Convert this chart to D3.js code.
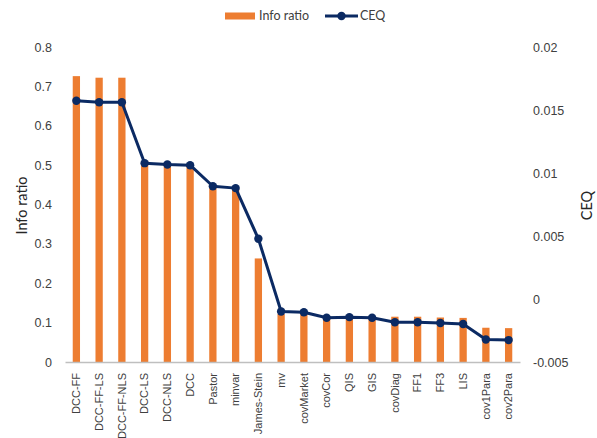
<!DOCTYPE html>
<html>
<head>
<meta charset="utf-8">
<script src="https://cdn.jsdelivr.net/npm/d3@7"></script>
<style>
  html, body { margin: 0; padding: 0; background: #fff; }
  svg { display: block; font-family: Lato, "Open Sans", "Liberation Sans", sans-serif; }
</style>
</head>
<body>
<svg id="chart" width="597" height="438"></svg>
<script>
// Estimators, ordered by information ratio
const categories = ["DCC-FF", "DCC-FF-LS", "DCC-FF-NLS", "DCC-LS", "DCC-NLS", "DCC", "Pastor", "minvar",
  "James-Stein", "mv", "covMarket", "covCor", "QIS", "GIS", "covDiag", "FF1", "FF3", "LIS", "cov1Para", "cov2Para"];

// Information ratio (bars, left axis)
const infoRatio = [0.726, 0.722, 0.722, 0.51, 0.505, 0.50, 0.45, 0.44, 0.263, 0.122,
  0.122, 0.117, 0.115, 0.115, 0.115, 0.115, 0.113, 0.112, 0.087, 0.086];

// Certainty equivalent (line, right axis)
const ceq = [0.01573, 0.01562, 0.01562, 0.01078, 0.01067, 0.01062, 0.00895, 0.0088, 0.00478, -0.00099,
  -0.00105, -0.00149, -0.00144, -0.00149, -0.00184, -0.00184, -0.0019, -0.00198, -0.00321, -0.00326];

const leftTicks = [0, 0.1, 0.2, 0.3, 0.4, 0.5, 0.6, 0.7, 0.8];
const rightTicks = [-0.005, 0, 0.005, 0.01, 0.015, 0.02];

const svg = d3.select("#chart");
const m = { left: 65, right: 520, top: 47, bottom: 362 };

const x = d3.scaleBand().domain(categories).range([m.left, m.right]).paddingInner(0).paddingOuter(0);
const yL = d3.scaleLinear().domain([0, 0.8]).range([m.bottom, m.top]);
const yR = d3.scaleLinear().domain([-0.005, 0.02]).range([m.bottom, m.top]);

const orange = "#ED7D31";
const navy = "#0B2A63";
const textColor = "#404040";
const fs = "12.5px";

// Bars
const barW = x.bandwidth() * 0.32;
svg.append("g").selectAll("rect").data(categories).join("rect")
  .attr("x", (d) => x(d) + x.bandwidth() / 2 - barW / 2)
  .attr("y", (d, i) => yL(infoRatio[i]))
  .attr("width", barW)
  .attr("height", (d, i) => yL(0) - yL(infoRatio[i]))
  .attr("fill", orange);

// Category axis
const xAxis = svg.append("g").attr("transform", `translate(0,${m.bottom})`)
  .call(d3.axisBottom(x).tickSize(0).tickPadding(0));
xAxis.select(".domain").attr("stroke", "#BFBFBF").attr("stroke-width", 1.3);
xAxis.selectAll("text")
  .attr("transform", "rotate(-90)")
  .attr("text-anchor", "end")
  .attr("dx", "-11")
  .attr("dy", "0.35em")
  .attr("y", 0)
  .attr("fill", textColor)
  .style("font-size", "11px");

// Left axis
const lAxis = svg.append("g").attr("transform", `translate(${m.left},0)`)
  .call(d3.axisLeft(yL).tickValues(leftTicks).tickSize(0).tickPadding(13).tickFormat(d3.format("")));
lAxis.select(".domain").remove();
lAxis.selectAll("text").attr("fill", textColor).style("font-size", fs);

// Right axis
const rAxis = svg.append("g").attr("transform", `translate(${m.right},0)`)
  .call(d3.axisRight(yR).tickValues(rightTicks).tickSize(0).tickPadding(13)
    .tickFormat((d) => d === 0 ? "0" : String(+d.toFixed(3))));
rAxis.select(".domain").remove();
rAxis.selectAll("text").attr("fill", textColor).style("font-size", fs);

// Axis titles
svg.append("text").attr("transform", `translate(22,${(m.top + m.bottom) / 2 + 1}) rotate(-90)`)
  .attr("text-anchor", "middle").attr("dy", "0.35em").attr("fill", "#262626")
  .style("font-size", "14.5px").text("Info ratio");
svg.append("text").attr("transform", `translate(587,${(m.top + m.bottom) / 2 + 1}) rotate(-90)`)
  .attr("text-anchor", "middle").attr("dy", "0.35em").attr("fill", "#262626")
  .style("font-size", "14.5px").text("CEQ");

// CEQ line with markers
const cx = (d) => x(d) + x.bandwidth() / 2;
const line = d3.line().x((d) => cx(d)).y((d, i) => yR(ceq[i]));
svg.append("path").datum(categories)
  .attr("d", line).attr("fill", "none").attr("stroke", navy)
  .attr("stroke-width", 3).attr("stroke-linejoin", "round");
svg.append("g").selectAll("circle").data(categories).join("circle")
  .attr("cx", cx).attr("cy", (d, i) => yR(ceq[i])).attr("r", 4.2).attr("fill", navy);

// Legend
const lg = svg.append("g");
lg.append("rect").attr("x", 225).attr("y", 12.5).attr("width", 30).attr("height", 7).attr("fill", orange);
lg.append("text").attr("x", 259).attr("y", 16).attr("dy", "0.35em").attr("fill", textColor)
  .style("font-size", fs).text("Info ratio");
lg.append("line").attr("x1", 325).attr("x2", 358).attr("y1", 16).attr("y2", 16)
  .attr("stroke", navy).attr("stroke-width", 3);
lg.append("circle").attr("cx", 341.5).attr("cy", 16).attr("r", 4.2).attr("fill", navy);
lg.append("text").attr("x", 360).attr("y", 16).attr("dy", "0.35em").attr("fill", textColor)
  .style("font-size", fs).text("CEQ");
</script>
</body>
</html>
